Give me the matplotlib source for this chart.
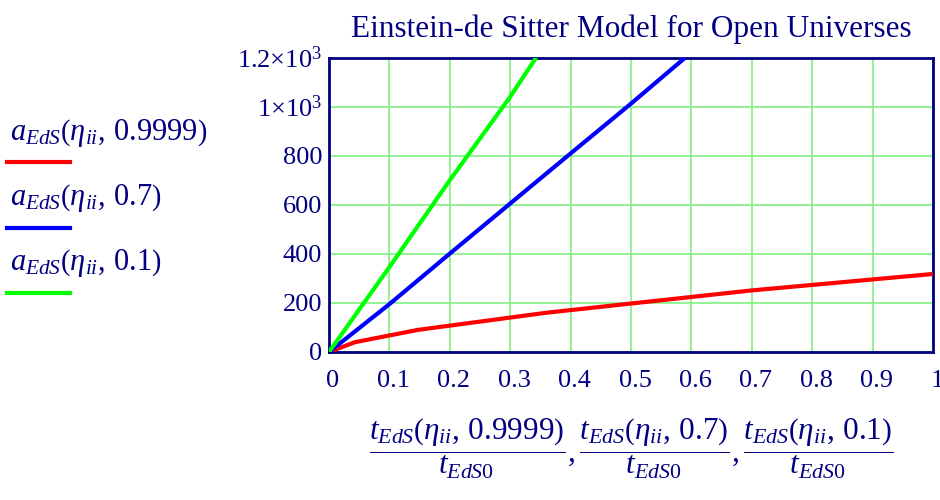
import matplotlib
matplotlib.use("Agg")
import matplotlib.pyplot as plt
import matplotlib.transforms as mtransforms
from matplotlib.lines import Line2D

# values (t / t_EdS0 on x, a_EdS on y)
t_09999 = [0.0, 0.043, 0.147, 0.36, 0.70, 1.0]
a_09999 = [0.0, 40.0, 90.0, 160.0, 251.0, 318.0]

t_07 = [0.0, 0.1, 0.2, 0.3, 0.4, 0.5, 0.59]
a_07 = [0.0, 195.0, 401.0, 605.0, 809.0, 1012.0, 1200.0]

t_01 = [0.0, 0.1, 0.2, 0.3, 0.343]
a_01 = [0.0, 346.0, 700.0, 1040.0, 1200.0]

x_ticks = [0, 0.1, 0.2, 0.3, 0.4, 0.5, 0.6, 0.7, 0.8, 0.9, 1.0]
x_ticklabels = ["0", "0.1", "0.2", "0.3", "0.4", "0.5", "0.6", "0.7", "0.8", "0.9", "1"]
y_ticks = [0, 200, 400, 600, 800, 1000, 1200]
y_ticklabels = ["0", "200", "400", "600", "800", r"$1{\times}10^{3}$", r"$1.2{\times}10^{3}$"]

legend_labels = [r"$a_{EdS}\left(\eta_{ii},\,0.9999\right)$",
                 r"$a_{EdS}\left(\eta_{ii},\,0.7\right)$",
                 r"$a_{EdS}\left(\eta_{ii},\,0.1\right)$"]
colors = ["#ff0000", "#0000ff", "#00ff00"]

NAVY = "#000080"
plt.rcParams["font.family"] = ["Liberation Serif", "DejaVu Serif"]
plt.rcParams["mathtext.fontset"] = "custom"
plt.rcParams["mathtext.rm"] = "Liberation Serif"
plt.rcParams["mathtext.it"] = "Liberation Serif:italic"
plt.rcParams["mathtext.bf"] = "Liberation Serif:bold"

fig = plt.figure(figsize=(9.4, 5.0), dpi=100)
W, H = 940, 500
ax = fig.add_axes([329 / W, 1 - 352 / H, (933 - 329) / W, (352 - 57.5) / H])

ax.grid(True, color="#80f080", lw=1.2)
ax.set_axisbelow(True)
for t, a, c in zip([t_09999, t_07, t_01], [a_09999, a_07, a_01], colors):
    ax.plot(t, a, color=c, lw=3, solid_capstyle="butt", zorder=3)

ax.set_xlim(0, 1)
ax.set_ylim(0, 1200)
ax.set_xticks(x_ticks)
ax.set_xticklabels(x_ticklabels)
ax.set_yticks(y_ticks)
ax.set_yticklabels(y_ticklabels)
ax.tick_params(length=0, colors=NAVY, labelsize=19)
ax.tick_params(axis="x", pad=13)
ax.tick_params(axis="y", pad=5)
for lab in ax.get_xticklabels():
    lab.set_transform(lab.get_transform() +
                      mtransforms.ScaledTranslation(4 / 100, 0, fig.dpi_scale_trans))
for s in ax.spines.values():
    s.set_color(NAVY)
    s.set_linewidth(2)

ax.set_title("Einstein-de Sitter Model for Open Universes", color=NAVY,
             fontsize=22.5, pad=15)
ax.set_xlabel(r"$\dfrac{t_{EdS}\left(\eta_{ii},\,0.9999\right)}{t_{EdS0}},"
              r"\dfrac{t_{EdS}\left(\eta_{ii},\,0.7\right)}{t_{EdS0}},"
              r"\dfrac{t_{EdS}\left(\eta_{ii},\,0.1\right)}{t_{EdS0}}$",
              color=NAVY, fontsize=22.5, labelpad=18)

# Mathcad-style legend at the left
text_y = [133, 198, 263]
line_y = [162, 228, 293]
for lab, c, ty, ly in zip(legend_labels, colors, text_y, line_y):
    fig.text(10 / W, 1 - ty / H, lab, color=NAVY, fontsize=22, va="center", ha="left")
    fig.add_artist(Line2D([7 / W, 70 / W], [1 - ly / H, 1 - ly / H],
                          transform=fig.transFigure, color=c, lw=3))

fig.savefig("out.png", dpi=100)
